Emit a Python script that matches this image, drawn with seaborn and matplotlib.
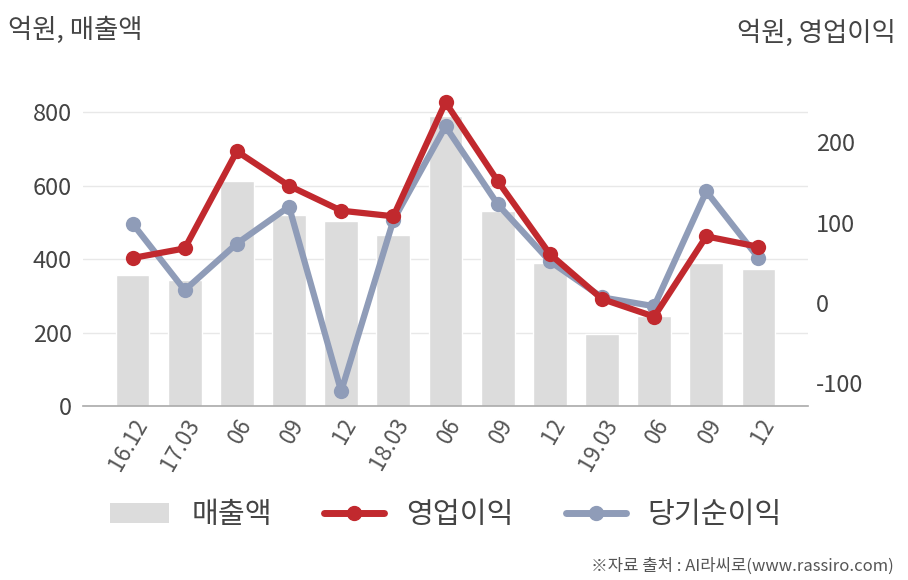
import numpy as np
import pandas as pd
import seaborn as sns
import matplotlib.pyplot as plt
from matplotlib.lines import Line2D
from matplotlib.patches import Patch

# Quarter labels and values (억원)
quarters = ['16.12', '17.03', '06', '09', '12', '18.03', '06', '09', '12',
            '19.03', '06', '09', '12']
sales = [356, 342, 612, 519, 503, 465, 789, 532, 389, 195, 246, 389, 374]
op_profit = [56, 68, 189, 146, 115, 108, 250, 152, 61, 5, -17, 83, 70]
net_profit = [99, 16, 74, 120, -110, 103, 220, 123, 52, 7, -4, 139, 56]

BAR_C = '#dcdcdc'
RED = '#c1292e'
BLUE = '#8f9cb8'
TXT = '#444444'

sns.set_theme(style='white')
plt.rcParams['font.family'] = ['Noto Sans CJK KR', 'DejaVu Sans']
plt.rcParams['axes.unicode_minus'] = False

df = pd.DataFrame({
    'pos': np.arange(len(quarters)),
    'sales': sales,
    'op': op_profit,
    'net': net_profit,
})

fig = plt.figure(figsize=(9.08, 5.8), dpi=100)
ax = fig.add_axes([0.0914, 0.30, 0.7985, 0.570])

sns.barplot(data=df, x='pos', y='sales', color=BAR_C, width=0.65,
            saturation=1, ax=ax, zorder=1)
ax.set_xlim(-0.95, 12.95)
ax.set_ylim(0, 900)
ax.set_yticks([0, 200, 400, 600, 800])
ax.yaxis.grid(True, color='#e8e8e8', linewidth=1)
ax.set_axisbelow(True)
ax.set_xticks(df['pos'])
ax.set_xticklabels(quarters, rotation=60, ha='right', rotation_mode='anchor',
                   fontsize=16, color='#555555')
ax.tick_params(axis='y', labelsize=17, labelcolor=TXT, length=0, pad=8)
ax.tick_params(axis='x', length=0, pad=6)
ax.set_xlabel('')
ax.set_ylabel('')
for s in ['top', 'left', 'right']:
    ax.spines[s].set_visible(False)
ax.spines['bottom'].set_color('#aaaaaa')
ax.spines['bottom'].set_linewidth(1.2)

ax2 = ax.twinx()
sns.lineplot(data=df, x='pos', y='net', color=BLUE, linewidth=4.5,
             marker='o', markersize=11, markeredgewidth=0, ax=ax2, zorder=3)
sns.lineplot(data=df, x='pos', y='op', color=RED, linewidth=4.5,
             marker='o', markersize=11, markeredgewidth=0, ax=ax2, zorder=4)
ax2.set_ylim(-128.3, 283.5)
ax2.set_yticks([-100, 0, 100, 200])
ax2.tick_params(axis='y', labelsize=17, labelcolor=TXT, length=0, pad=6)
ax2.set_xlabel('')
ax2.set_ylabel('')
for s in ['top', 'left', 'right', 'bottom']:
    ax2.spines[s].set_visible(False)

fig.text(0.009, 0.948, '억원, 매출액', fontsize=19, color=TXT,
         ha='left', va='center')
fig.text(0.987, 0.943, '억원, 영업이익', fontsize=19, color=TXT,
         ha='right', va='center')

handles = [
    Patch(facecolor=BAR_C, edgecolor='none'),
    Line2D([], [], color=RED, linewidth=5, marker='o', markersize=10),
    Line2D([], [], color=BLUE, linewidth=5, marker='o', markersize=10),
]
fig.legend(handles, ['매출액', '영업이익', '당기순이익'], loc='center',
           bbox_to_anchor=(0.491, 0.112), ncol=3, frameon=False,
           fontsize=21, handlelength=2.05, handleheight=0.7,
           columnspacing=1.8, handletextpad=0.75, labelcolor=TXT)

fig.text(0.984, 0.024, '※자료 출처 : AI라씨로(www.rassiro.com)', fontsize=12,
         color='#555555', ha='right', va='center')

plt.savefig('out.png', dpi=100)
plt.close()
